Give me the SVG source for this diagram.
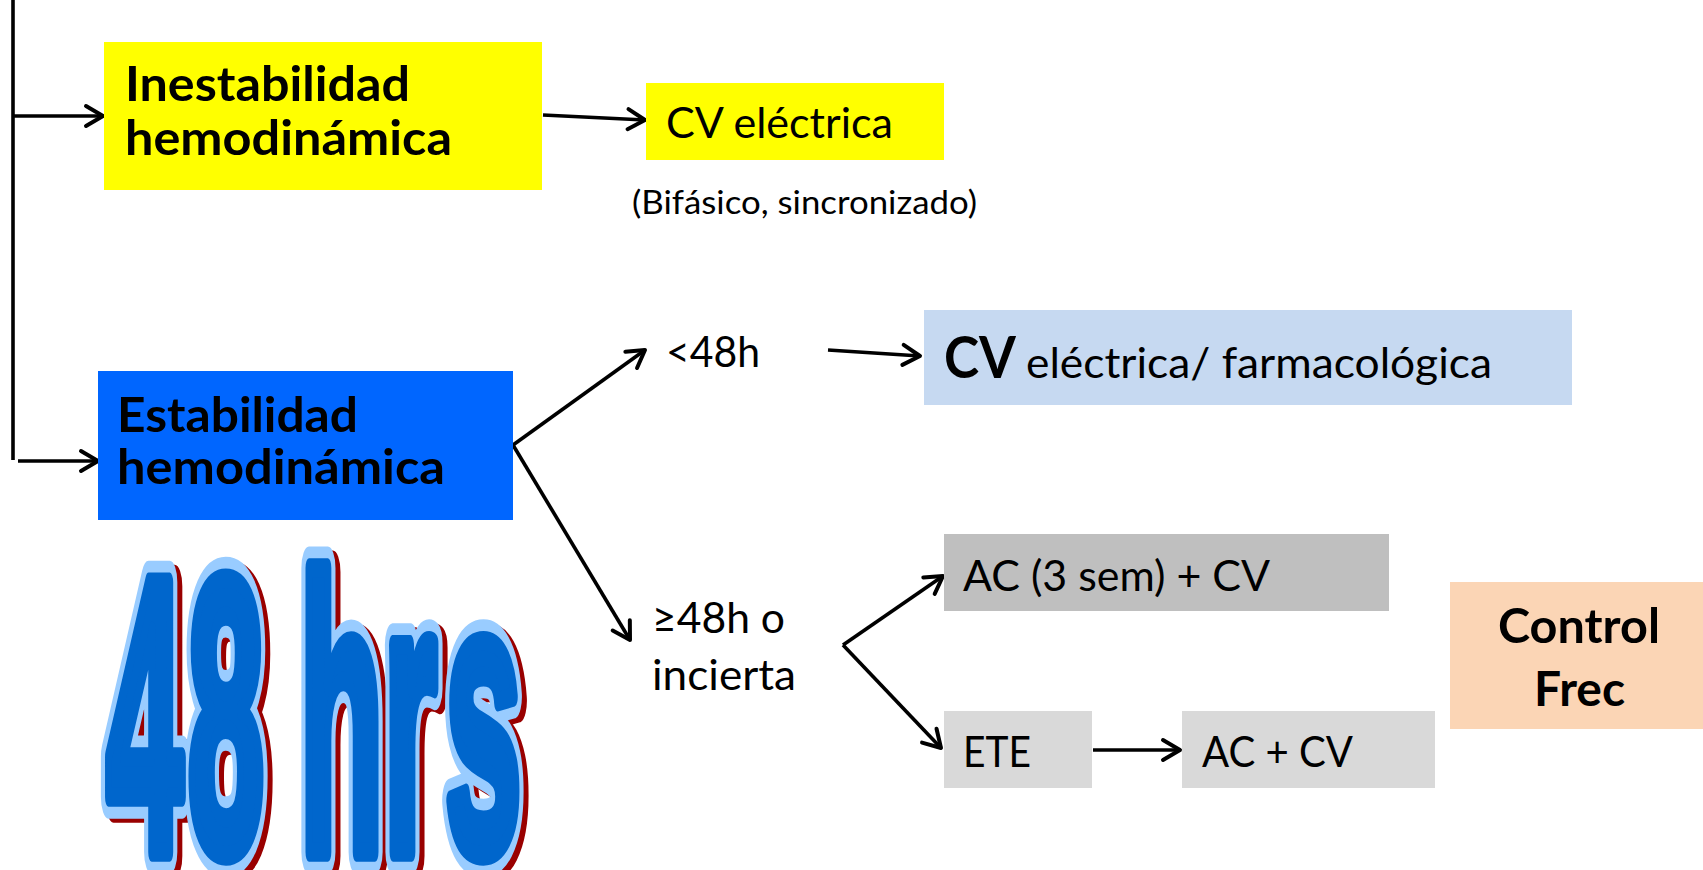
<svg xmlns="http://www.w3.org/2000/svg" width="1703" height="870" viewBox="0 0 1703 870">
<style>
.t{font-family:Lato,"Open Sans","Liberation Sans",sans-serif;fill:#000}
.b{font-weight:bold}
.ln{stroke:#000;stroke-width:3.6;fill:none}
.big{font-family:"Liberation Sans",Arial,sans-serif;font-weight:bold;font-size:100px}
</style>
<defs>
<marker id="ah" viewBox="0 0 24 26" refX="21" refY="13" markerWidth="24" markerHeight="26" markerUnits="userSpaceOnUse" orient="auto">
<path d="M4,3 L21,13 L4,23" fill="none" stroke="#000" stroke-width="4" stroke-linecap="round" stroke-linejoin="round"/>
</marker>
</defs>
<rect width="1703" height="870" fill="#fff"/>

<g id="connectors">
<line class="ln" x1="13" y1="0" x2="13" y2="460"/>
<line class="ln" x1="13" y1="116" x2="103" y2="116" marker-end="url(#ah)"/>
<line class="ln" x1="18" y1="461" x2="98" y2="461" marker-end="url(#ah)"/>
<line class="ln" x1="543" y1="115" x2="645" y2="120" marker-end="url(#ah)"/>
<line class="ln" x1="513" y1="445" x2="645" y2="350" marker-end="url(#ah)"/>
<line class="ln" x1="828" y1="350" x2="920" y2="356" marker-end="url(#ah)"/>
<line class="ln" x1="513" y1="445" x2="630" y2="640" marker-end="url(#ah)"/>
<line class="ln" x1="843" y1="645" x2="943" y2="576" marker-end="url(#ah)"/>
<line class="ln" x1="843" y1="645" x2="941" y2="748" marker-end="url(#ah)"/>
<line class="ln" x1="1093" y1="750" x2="1180" y2="750" marker-end="url(#ah)"/>
</g>

<g id="inestabilidad">
<rect x="104" y="42" width="438" height="148" fill="#ffff00"/>
<text class="t b" x="125" y="101" font-size="48" textLength="285" lengthAdjust="spacingAndGlyphs">Inestabilidad</text>
<text class="t b" x="125" y="155" font-size="48" textLength="327" lengthAdjust="spacingAndGlyphs">hemodinámica</text>
</g>

<g id="cv-electrica">
<rect x="646" y="83" width="298" height="77" fill="#ffff00"/>
<text class="t" x="666" y="138" font-size="42" textLength="227" lengthAdjust="spacingAndGlyphs">CV eléctrica</text>
</g>

<g id="bifasico">
<text class="t" x="632" y="214" font-size="33" textLength="345" lengthAdjust="spacingAndGlyphs">(Bifásico, sincronizado)</text>
</g>

<g id="estabilidad">
<rect x="98" y="371" width="415" height="149" fill="#0066ff"/>
<text class="t b" x="117" y="432" font-size="48" textLength="241" lengthAdjust="spacingAndGlyphs">Estabilidad</text>
<text class="t b" x="117" y="484" font-size="48" textLength="328" lengthAdjust="spacingAndGlyphs">hemodinámica</text>
</g>

<g id="menos48">
<text class="t" x="666" y="367" font-size="42" textLength="94" lengthAdjust="spacingAndGlyphs">&lt;48h</text>
</g>

<g id="cv-farmaco">
<rect x="924" y="310" width="648" height="95" fill="#c6d9f1"/>
<text class="t" x="944" y="378" font-size="42"><tspan class="b" font-size="58" textLength="72" lengthAdjust="spacingAndGlyphs">CV</tspan><tspan dx="10" textLength="466" lengthAdjust="spacingAndGlyphs">eléctrica/ farmacológica</tspan></text>
</g>

<g id="mayor48">
<text class="t" x="652" y="633" font-size="42" textLength="133" lengthAdjust="spacingAndGlyphs">≥48h o</text>
<text class="t" x="652" y="690" font-size="42" textLength="144" lengthAdjust="spacingAndGlyphs">incierta</text>
</g>

<g id="ac3sem">
<rect x="944" y="534" width="445" height="77" fill="#bfbfbf"/>
<text class="t" x="963" y="591" font-size="42" textLength="307" lengthAdjust="spacingAndGlyphs">AC (3 sem) + CV</text>
</g>

<g id="ete">
<rect x="944" y="711" width="148" height="77" fill="#d9d9d9"/>
<text class="t" x="963" y="767" font-size="42" textLength="68" lengthAdjust="spacingAndGlyphs">ETE</text>
</g>

<g id="accv">
<rect x="1182" y="711" width="253" height="77" fill="#d9d9d9"/>
<text class="t" x="1202" y="767" font-size="42" textLength="151" lengthAdjust="spacingAndGlyphs">AC + CV</text>
</g>

<g id="control">
<rect x="1450" y="582" width="253" height="147" fill="#fbd5b5"/>
<text class="t b" x="1498" y="643" font-size="48" textLength="162" lengthAdjust="spacingAndGlyphs">Control</text>
<text class="t b" x="1534" y="706" font-size="48" textLength="91" lengthAdjust="spacingAndGlyphs">Frec</text>
</g>

<g id="hrs48">
<g transform="translate(5,4) translate(0,852) scale(1.38,3.92)">
<text class="big" y="0" fill="#990000" stroke="#990000" stroke-width="11" stroke-linejoin="round" vector-effect="non-scaling-stroke"><tspan x="77.1">4</tspan><tspan x="135.9">8</tspan><tspan x="216.9">h</tspan><tspan x="277.8">r</tspan><tspan x="322.4">s</tspan></text>
</g>
<g transform="translate(0,852) scale(1.38,3.92)">
<text class="big" y="0" fill="#99ccff" stroke="#99ccff" stroke-width="11" stroke-linejoin="round" vector-effect="non-scaling-stroke"><tspan x="77.1">4</tspan><tspan x="135.9">8</tspan><tspan x="216.9">h</tspan><tspan x="277.8">r</tspan><tspan x="322.4">s</tspan></text>
<text class="big" y="0" fill="#0066cc" stroke="#0066cc" stroke-width="5" stroke-linejoin="round" vector-effect="non-scaling-stroke"><tspan x="77.1">4</tspan><tspan x="135.9">8</tspan><tspan x="216.9">h</tspan><tspan x="277.8">r</tspan><tspan x="322.4">s</tspan></text>
</g>
</g>
</svg>
